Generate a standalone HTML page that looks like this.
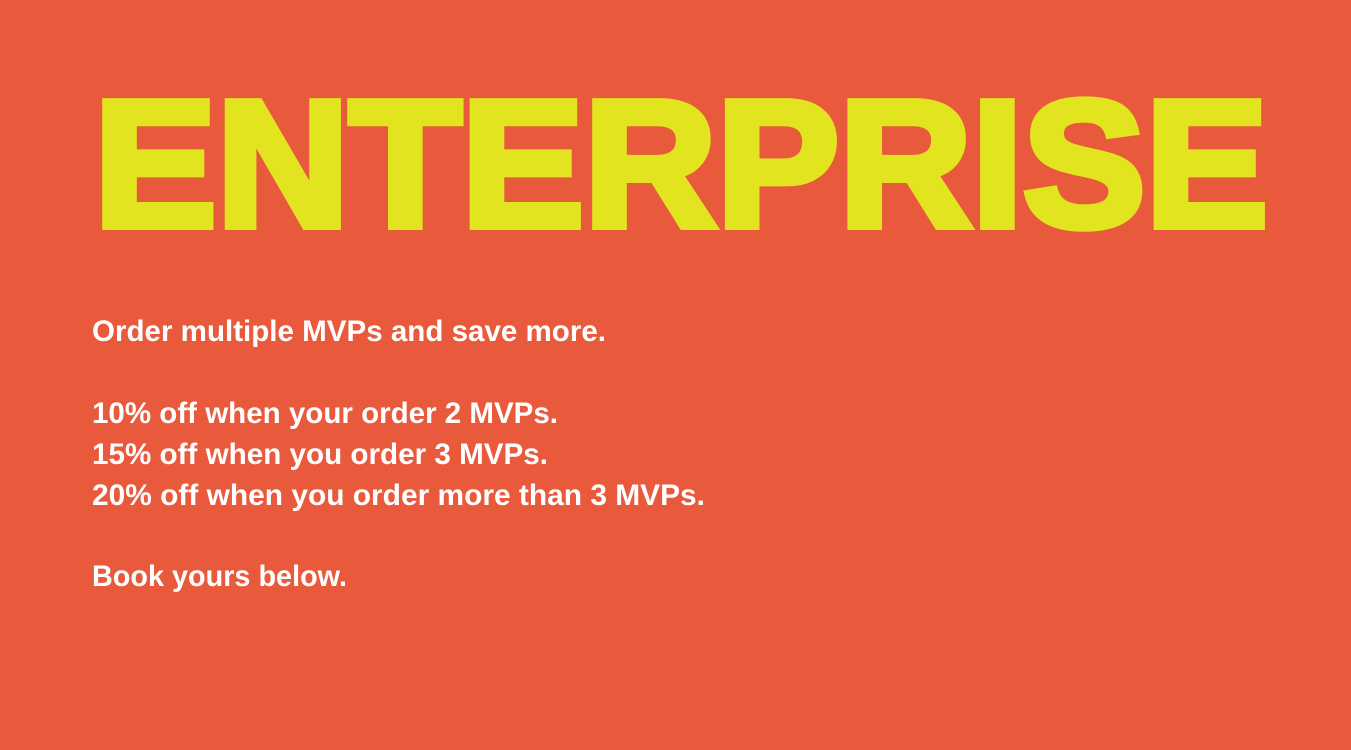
<!DOCTYPE html>
<html>
<head>
<meta charset="utf-8">
<style>
html,body{margin:0;padding:0;background:#E9593C;}
svg{display:block;}
</style>
</head>
<body>
<svg width="1351" height="750" viewBox="0 0 1351 750" xmlns="http://www.w3.org/2000/svg">
  <rect x="0" y="0" width="1351" height="750" fill="#E9593C"/>
  <text x="94" y="226" font-family="Liberation Sans, sans-serif" font-weight="bold" font-size="180" fill="#E2E41F" stroke="#E2E41F" stroke-width="8" stroke-linejoin="miter" textLength="1174" lengthAdjust="spacingAndGlyphs">ENTERPRISE</text>
  <g font-family="Liberation Sans, sans-serif" font-weight="bold" font-size="30" fill="#ffffff">
    <text x="92" y="341" textLength="514" lengthAdjust="spacingAndGlyphs">Order multiple MVPs and save more.</text>
    <text x="92" y="423" textLength="466" lengthAdjust="spacingAndGlyphs">10% off when your order 2 MVPs.</text>
    <text x="92" y="464" textLength="456" lengthAdjust="spacingAndGlyphs">15% off when you order 3 MVPs.</text>
    <text x="92" y="505" textLength="613" lengthAdjust="spacingAndGlyphs">20% off when you order more than 3 MVPs.</text>
    <text x="92" y="586" textLength="255" lengthAdjust="spacingAndGlyphs">Book yours below.</text>
  </g>
</svg>
</body>
</html>
